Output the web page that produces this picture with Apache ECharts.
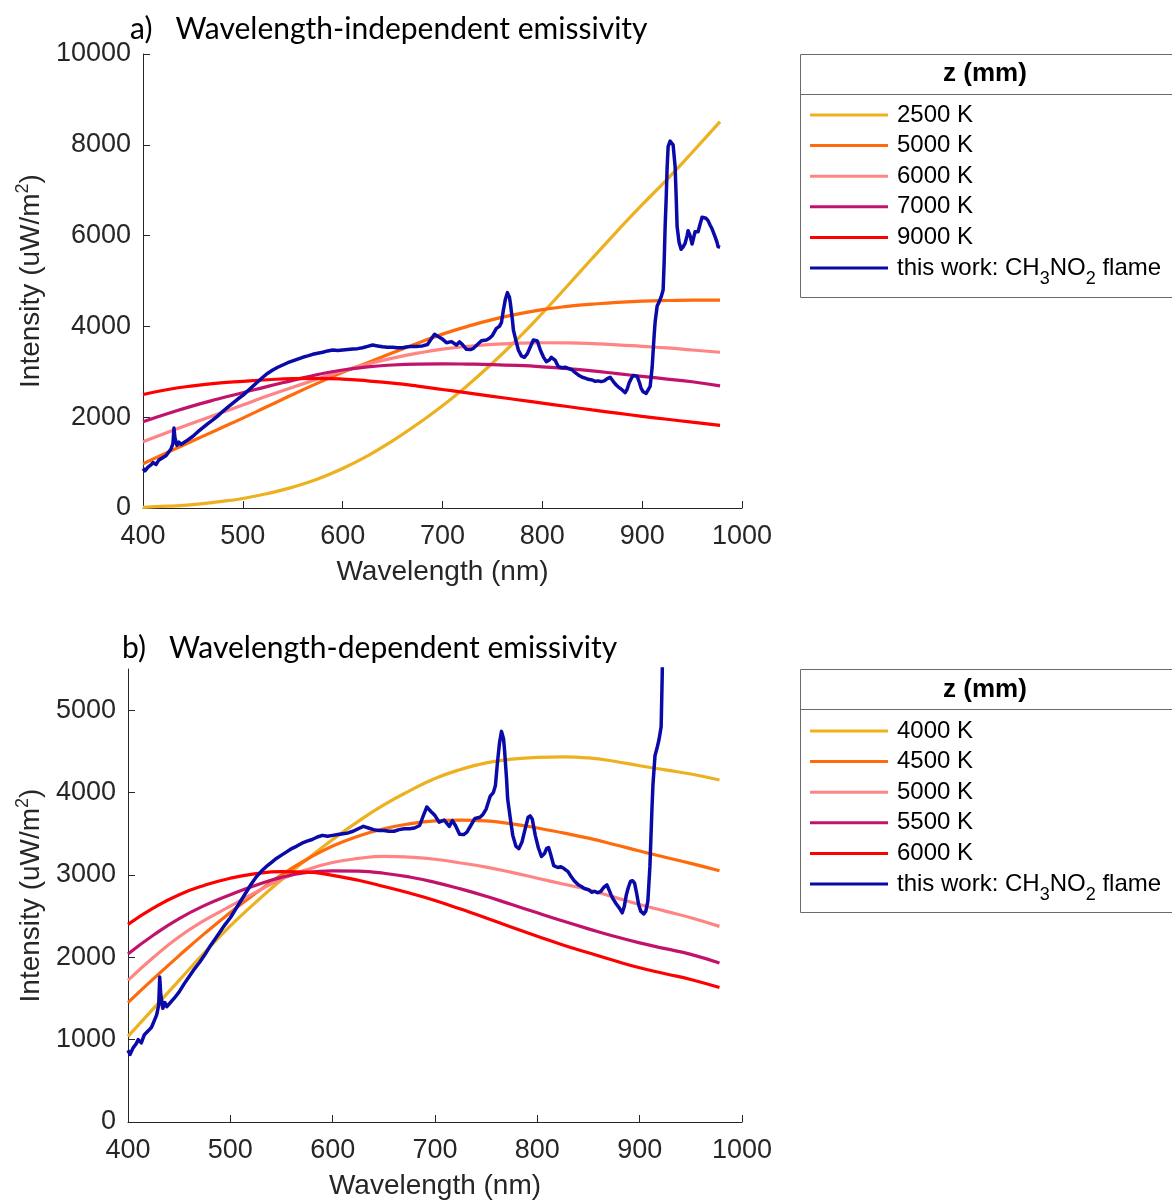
<!DOCTYPE html>
<html><head><meta charset="utf-8">
<script src="https://cdn.jsdelivr.net/npm/echarts@6/dist/echarts.min.js"></script>
<style>html,body{margin:0;padding:0;background:#fff}#chart{width:1172px;height:1201px}</style>
</head><body><div id="chart"></div>
<script>
// ---------- data ----------
const curveWl = [400,425,450,475,500,525,550,575,600,625,650,675,700,725,750,775,800,825,850,875,900,925,950,978];

// panel a) wavelength-independent emissivity
const topNames = ['2500 K','5000 K','6000 K','7000 K','9000 K'];
const a2500 = [15,40,75,135,210,320,460,640,870,1150,1480,1850,2250,2700,3190,3720,4290,4890,5500,6100,6680,7240,7830,8510];
const a5000 = [975,1230,1480,1730,1980,2240,2500,2750,2990,3200,3420,3630,3830,4000,4150,4270,4370,4440,4490,4530,4555,4570,4580,4580];
const a6000 = [1460,1670,1870,2070,2270,2470,2660,2840,3020,3170,3300,3410,3500,3560,3605,3630,3640,3635,3620,3595,3560,3525,3480,3430];
const a7000 = [1900,2080,2250,2400,2540,2680,2810,2940,3040,3110,3150,3170,3175,3170,3160,3140,3110,3070,3020,2960,2900,2840,2780,2690];
const a9000 = [2500,2610,2690,2750,2790,2825,2850,2855,2840,2800,2750,2685,2610,2535,2460,2385,2310,2235,2160,2090,2020,1955,1890,1820];

// panel b) wavelength-dependent emissivity
const botNames = ['4000 K','4500 K','5000 K','5500 K','6000 K'];
const b4000 = [1040,1380,1720,2060,2380,2670,2940,3190,3430,3650,3850,4020,4170,4280,4360,4405,4428,4434,4420,4380,4325,4275,4225,4153];
const b4500 = [1450,1740,2020,2290,2545,2780,3000,3190,3350,3470,3560,3620,3655,3665,3655,3620,3570,3510,3446,3370,3290,3215,3140,3050];
const b5000 = [1720,2000,2250,2450,2620,2790,2950,3065,3150,3200,3225,3215,3190,3145,3095,3030,2960,2890,2820,2730,2640,2560,2480,2375];
const b5500 = [2040,2270,2470,2630,2760,2875,2970,3030,3050,3045,3020,2975,2910,2830,2740,2640,2540,2440,2345,2255,2175,2105,2035,1930];
const b6000 = [2400,2600,2760,2875,2960,3015,3040,3035,2995,2935,2860,2780,2690,2585,2478,2365,2256,2150,2054,1960,1873,1800,1731,1632];

const curveColors = ['#EDB120','#FF6A0D','#FF8585','#C2136C','#FF0000'];
const specColor = '#0A0AA8';
const specName = 'this work: CH3NO2 flame';

// measured spectrum (same in both panels)
const specWl = [400,402,405,408,410,413,416,420,423,426,428,430,431,432,434,436,438,440,445,450,455,460,465,470,475,480,485,490,495,500,505,510,515,520,525,530,535,540,545,550,555,560,565,570,575,580,585,590,595,600,605,610,615,620,625,630,635,640,645,650,655,660,665,670,675,680,685,688,692,696,700,704,709,714,717,720,724,728,731,735,739,744,747,750,754,757,759,761,763,765,767,768,770,771,774,776,779,782,785,788,791,793,795,798,801,804,807,809,811,813,816,820,823,826,830,833,836,840,843,846,850,853,856,859,862,865,868,870,872,874,877,880,883,885,887,889,891,893,895,897,899,901,904,906,908,910,912,913,915,917,919,921,922,923,924,925,926,928,929,931,933,934,935,937,939,941,943,945,946,948,950,951,953,956,958,960,962,964,966,968,970,973,975,976,978];
const specVal = [870,820,900,950,1000,960,1060,1110,1150,1240,1300,1420,1760,1550,1380,1450,1400,1430,1500,1580,1680,1770,1860,1940,2030,2130,2220,2310,2400,2480,2580,2680,2780,2880,2970,3040,3100,3150,3200,3240,3280,3320,3350,3385,3410,3430,3460,3480,3470,3480,3490,3500,3510,3530,3560,3590,3570,3550,3540,3540,3530,3530,3550,3560,3560,3570,3600,3700,3825,3770,3720,3640,3665,3590,3660,3600,3495,3490,3517,3600,3685,3700,3737,3800,3957,4000,4082,4361,4600,4743,4650,4508,4150,3921,3650,3480,3350,3319,3400,3553,3700,3716,3680,3480,3330,3223,3260,3320,3333,3250,3113,3090,3100,3077,3040,2980,2930,2880,2860,2835,2820,2790,2800,2783,2800,2850,2878,2820,2760,2709,2650,2600,2540,2620,2760,2850,2920,2930,2900,2780,2637,2560,2526,2560,2680,3100,3800,4100,4450,4540,4650,4800,5400,6200,6784,7500,7958,8080,8090,8000,7518,6900,6196,5850,5698,5750,5830,6000,6108,6000,5815,5900,6086,6086,6250,6403,6380,6381,6330,6233,6150,5976,5850,5756,5740];

// axis tick labels
const xTicks = [400,500,600,700,800,900,1000];
const yTicksA = [0,2000,4000,6000,8000,10000];
const yTicksB = [0,1000,2000,3000,4000,5000];

// ---------- helpers ----------
const zip = (xs, ys) => xs.map((x, i) => [x, ys[i]]);
const FONT = 'Liberation Sans';
const AX = '#262626';
const plain = v => String(v);

function curveSeries(name, arr, color, idx) {
  return {
    type: 'line', name: name, xAxisIndex: idx, yAxisIndex: idx,
    data: zip(curveWl, arr), smooth: 0.5, showSymbol: false, symbol: 'none',
    lineStyle: { width: 3.2, color: color }, itemStyle: { color: color },
    emphasis: { disabled: true }
  };
}
function specSeries(idx) {
  return {
    type: 'line', name: specName, xAxisIndex: idx, yAxisIndex: idx,
    data: zip(specWl, specVal), showSymbol: false, symbol: 'none', clip: true,
    lineStyle: { width: 3.5, color: specColor, join: 'round' }, itemStyle: { color: specColor },
    emphasis: { disabled: true }, z: 3
  };
}
function xAxis(idx) {
  return {
    gridIndex: idx, type: 'value', min: 400, max: 1000, interval: 100,
    axisLine: { show: true, lineStyle: { color: AX, width: 1 } },
    axisTick: { show: true, inside: true, length: 7, lineStyle: { color: AX } },
    axisLabel: { fontFamily: FONT, fontSize: 27, color: AX, margin: 15,
      customValues: xTicks, formatter: plain },
    splitLine: { show: false },
    name: 'Wavelength (nm)', nameLocation: 'middle', nameGap: 50,
    nameTextStyle: { fontFamily: FONT, fontSize: 28, color: AX }
  };
}
function yAxis(idx, max, interval, ticks, gap) {
  return {
    gridIndex: idx, type: 'value', min: 0, max: max, interval: interval,
    axisLine: { show: true, lineStyle: { color: AX, width: 1 } },
    axisTick: { show: true, inside: true, length: 7, lineStyle: { color: AX }, customValues: ticks },
    axisLabel: { fontFamily: FONT, fontSize: 27, color: AX, margin: 12, customValues: ticks, formatter: plain },
    splitLine: { show: false },
    name: '{n|Intensity (uW/m}{sup|2}{n|)}', nameLocation: 'middle', nameGap: gap,
    nameTextStyle: { fontFamily: FONT, color: AX,
      rich: { n: { fontFamily: FONT, fontSize: 28, lineHeight: 34, color: AX },
              sup: { fontFamily: FONT, fontSize: 18, lineHeight: 18, verticalAlign: 'top', color: AX } } }
  };
}
function legend(names, top) {
  const data = names.map((n, i) => ({ name: n, itemStyle: { color: curveColors[i] } }));
  data.push({ name: specName, itemStyle: { color: specColor } });
  return {
    orient: 'vertical', left: 810, top: top, padding: 0, itemGap: 6.6,
    itemWidth: 78, itemHeight: 3, icon: 'rect', selectedMode: false,
    data: data,
    formatter: function (name) {
      if (name === specName) return '{n|this work: CH}{s|3}{n|NO}{s|2}{n| flame}';
      return '{n|' + name + '}';
    },
    textStyle: { fontFamily: FONT, fontSize: 24, color: '#000', padding: [0, 0, 0, 4],
      rich: { n: { fontFamily: FONT, fontSize: 24, lineHeight: 40, color: '#000' },
              s: { fontFamily: FONT, fontSize: 18, lineHeight: 18, verticalAlign: 'bottom', color: '#000' } } }
  };
}
function legendBox(y0, h, sepY, headY) {
  return [
    { type: 'rect', shape: { x: 800.5, y: y0 + 0.5, width: 420, height: h }, style: { fill: '#fff', stroke: '#6b6b6b', lineWidth: 1 }, z: -1 },
    { type: 'line', shape: { x1: 800.5, y1: sepY + 0.5, x2: 1172, y2: sepY + 0.5 }, style: { stroke: '#6b6b6b', lineWidth: 1 }, z: -1 },
    { type: 'text', x: 985, y: headY, style: { text: 'z (mm)', fontFamily: FONT, fontSize: 26, fontWeight: 'bold', fill: '#000', align: 'center', verticalAlign: 'middle' } }
  ];
}

const series = [];
[a2500, a5000, a6000, a7000, a9000].forEach((arr, i) => series.push(curveSeries(topNames[i], arr, curveColors[i], 0)));
series.push(specSeries(0));
[b4000, b4500, b5000, b5500, b6000].forEach((arr, i) => series.push(curveSeries(botNames[i], arr, curveColors[i], 1)));
series.push(specSeries(1));

const option = {
  backgroundColor: '#fff',
  animation: false,
  title: [
    { text: 'a)   Wavelength-independent emissivity', left: 130, top: 14, padding: 0,
      textStyle: { fontFamily: 'Lato', fontSize: 30, fontWeight: 'normal', color: '#000' } },
    { text: 'b)   Wavelength-dependent emissivity', left: 122, top: 633, padding: 0,
      textStyle: { fontFamily: 'Lato', fontSize: 30, fontWeight: 'normal', color: '#000' } }
  ],
  grid: [
    { left: 143, top: 54, width: 599, height: 454, containLabel: false },
    { left: 128, top: 669, width: 614, height: 454, containLabel: false }
  ],
  xAxis: [xAxis(0), xAxis(1)],
  yAxis: [yAxis(0, 10000, 2000, yTicksA, 85), yAxis(1, 5500, 1000, yTicksB, 70)],
  legend: [legend(topNames, 103), legend(botNames, 719)],
  graphic: legendBox(54, 243, 94, 74).concat(legendBox(669, 243, 709, 690)),
  series: series
};
const chart = echarts.init(document.getElementById('chart'), null, { renderer: 'canvas' });
chart.setOption(option);
</script></body></html>
